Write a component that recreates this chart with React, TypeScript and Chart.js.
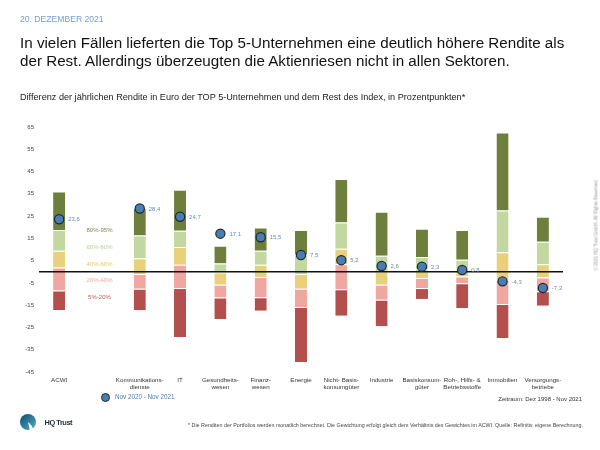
import React, { useEffect, useRef } from "react";
import { Chart, registerables } from "chart.js";
Chart.register(...registerables);

const categories: string[][] = [
  ["ACWI"], [""], ["Kommunikations-", "dienste"], ["IT"], ["Gesundheits-", "wesen"],
  ["Finanz-", "wesen"], ["Energie"], ["Nicht- Basis-", "konsumgüter"], ["Industrie"],
  ["Basiskonsum-", "güter"], ["Roh-, Hilfs- &", "Betriebsstoffe"], ["Immobilien"],
  ["Versorgungs-", "betriebe"],
];

// percentile boundaries of the return difference (percentage points)
const p95 = [36.0, null, 28.5, 36.8, 11.7, 19.9, 18.8, 41.7, 27.0, 19.3, 18.7, 62.5, 24.7];
const p80 = [18.7, null, 16.3, 18.4, 3.7, 9.4, 7.6, 22.1, 7.2, 6.6, 5.4, 27.5, 13.5];
const p60 = [9.4, null, 6.1, 11.1, -0.3, 3.1, -1.0, 10.3, 0.1, 1.3, 1.5, 8.8, 3.4];
const p40 = [1.9, null, -1.0, 3.1, -5.8, -2.4, -7.6, 3.4, -5.8, -2.8, -2.1, -3.6, -2.6];
const p20 = [-8.4, null, -7.6, -7.3, -11.5, -11.4, -15.8, -7.8, -12.6, -7.3, -5.1, -14.5, -8.8];
const p5 = [-17.2, null, -17.3, -29.3, -21.2, -17.5, -40.5, -19.7, -24.5, -12.2, -16.3, -29.7, -15.2];
const latest = [23.6, null, 28.4, 24.7, 17.1, 15.5, 7.5, 5.2, 2.6, 2.3, 0.8, -4.3, -7.3];

const bandLabels = ["5%-20%", "20%-40%", "40%-60%", "60%-80%", "80%-95%"];
const bandColors = ["#b3504d", "#efa7a2", "#e8d17a", "#c3d8a0", "#6e7e3b"];
const bandTextColors = ["#bb5c58", "#eeaaa4", "#e2c86e", "#b9d096", "#7e8c4a"];
const latestLabel = "Nov 2020 - Nov 2021";
const yMin = -45;
const yMax = 65;
const yStep = 10;

const FONT = "'Liberation Sans', Arial, Helvetica, sans-serif";

const fmt = (v: number) => v.toFixed(1).replace(".", ",");

export default function App() {
  const ref = useRef<HTMLCanvasElement | null>(null);

  useEffect(() => {
    if (!ref.current) return;
    const bounds = [p5, p20, p40, p60, p80, p95];
    const barSets = bandLabels.map((lab, k) => ({
      type: "bar" as const,
      label: lab,
      data: categories.map((_, i) =>
        bounds[k][i] == null ? null : [bounds[k][i] as number, bounds[k + 1][i] as number]
      ),
      backgroundColor: bandColors[k],
      borderColor: "#ffffff",
      borderWidth: { top: 1, right: 0, bottom: 0, left: 0 },
      borderSkipped: false,
      barPercentage: 0.3,
      categoryPercentage: 1,
      order: 1,
    }));

    const overlay = {
      id: "overlay",
      beforeDatasetDraw(chart: any, args: any) {
        if (args.index !== 5) return;
        const { ctx, chartArea, scales } = chart;
        const y0 = scales.y.getPixelForValue(0);
        ctx.save();
        ctx.strokeStyle = "#111";
        ctx.lineWidth = 1.5;
        ctx.beginPath();
        ctx.moveTo(chartArea.left, y0);
        ctx.lineTo(chartArea.right, y0);
        ctx.stroke();
        ctx.restore();
      },
      afterDatasetsDraw(chart: any) {
        const { ctx, scales } = chart;
        const meta = chart.getDatasetMeta(5);
        ctx.save();
        ctx.font = `6px ${FONT}`;
        ctx.fillStyle = "#6a8cb2";
        ctx.textAlign = "left";
        ctx.textBaseline = "middle";
        meta.data.forEach((pt: any, i: number) => {
          const v = latest[i];
          if (v == null) return;
          ctx.fillText(fmt(v), pt.x + 9, pt.y + 0.5);
        });
        // band legend in empty column
        const xc = scales.x.getPixelForValue(1);
        ctx.textAlign = "center";
        for (let j = 0; j < 5; j++) {
          const k = 4 - j;
          const yv = 18.5 - 7.5 * j;
          ctx.fillStyle = bandTextColors[k];
          ctx.fillText(bandLabels[k], xc, scales.y.getPixelForValue(yv));
        }
        ctx.restore();
      },
    };

    const chart = new Chart(ref.current, {
      type: "bar",
      data: {
        labels: categories,
        datasets: [
          ...barSets,
          {
            type: "line" as const,
            label: latestLabel,
            data: latest,
            showLine: false,
            pointRadius: 4.6,
            pointBackgroundColor: "#4a7eae",
            pointBorderColor: "#1b2a38",
            pointBorderWidth: 1.2,
            order: 0,
          } as any,
        ],
      },
      options: {
        responsive: false,
        animation: false,
        layout: { padding: { left: 0, right: 37, top: 127, bottom: 48 } },
        plugins: { legend: { display: false }, tooltip: { enabled: false }, title: { display: false } },
        scales: {
          x: {
            stacked: true,
            grid: { display: false, drawTicks: false },
            border: { display: false },
            ticks: {
              autoSkip: false,
              maxRotation: 0,
              padding: 4,
              color: "#333",
              font: { family: FONT, size: 6.2, lineHeight: 1.25 },
            },
            afterFit: (axis: any) => { axis.height = 30; },
          },
          y: {
            stacked: false,
            min: yMin,
            max: yMax,
            grid: { display: false, drawTicks: false },
            border: { display: false },
            ticks: {
              stepSize: yStep,
              padding: 5,
              color: "#444",
              font: { family: FONT, size: 6 },
            },
            afterFit: (axis: any) => { axis.width = 39; },
          },
        },
      },
      plugins: [overlay],
    });
    return () => chart.destroy();
  }, []);

  const abs = (left: number, top: number, extra: React.CSSProperties = {}): React.CSSProperties => ({
    position: "absolute", left, top, whiteSpace: "nowrap", fontFamily: FONT, margin: 0, ...extra,
  });

  return (
    <div style={{ position: "fixed", left: 0, top: 0, width: 600, height: 450, background: "#fff", overflow: "hidden" }}>
      <canvas ref={ref} width={600} height={450} style={{ position: "absolute", left: 0, top: 0 }} />
      <div style={abs(20, 14, { fontSize: 8.6, lineHeight: "10px", color: "#79a2c5" })}>20. DEZEMBER 2021</div>
      <div style={abs(20, 34, { fontSize: 15.2, lineHeight: "18px", color: "#111" })}>
        In vielen Fällen lieferten die Top 5-Unternehmen eine deutlich höhere Rendite als
        <br />
        der Rest. Allerdings überzeugten die Aktienriesen nicht in allen Sektoren.
      </div>
      <div style={abs(20, 92, { fontSize: 9.15, lineHeight: "10px", color: "#222" })}>
        Differenz der jährlichen Rendite in Euro der TOP 5-Unternehmen und dem Rest des Index, in Prozentpunkten*
      </div>
      <div style={{ position: "absolute", left: 100.5, top: 392.5, width: 9, height: 9, borderRadius: "50%", background: "#4a7eae", border: "1.2px solid #1b2a38", boxSizing: "border-box" }} />
      <div style={abs(115, 392, { fontSize: 6.3, lineHeight: "10px", color: "#4a7eae" })}>{latestLabel}</div>
      <div style={abs(0, 394, { width: 582, textAlign: "right", fontSize: 6.0, lineHeight: "10px", color: "#333" })}>
        Zeitraum: Dez 1998 - Nov 2021
      </div>
      <div style={abs(188, 420, { fontSize: 10.7, lineHeight: "10px", color: "#444", transform: "scale(0.5)", transformOrigin: "0 50%" })}>
        * Die Renditen der Portfolios werden monatlich berechnet. Die Gewichtung erfolgt gleich dem Verhältnis des Gewichtes im ACWI. Quelle: Refinitiv, eigene Berechnung.
      </div>
      <div style={abs(595.5, 225, { fontSize: 9, lineHeight: "10px", color: "#999", transform: "translate(-50%,-50%) rotate(-90deg) scale(0.5)" })}>
        © 2021 HQ Trust GmbH. All Rights Reserved.
      </div>
      <svg width={18} height={18} style={{ position: "absolute", left: 19, top: 413 }}>
        <defs>
          <linearGradient id="hqg" x1="0" y1="0" x2="1" y2="1">
            <stop offset="0" stopColor="#0a4d6b" />
            <stop offset="1" stopColor="#5aaccc" />
          </linearGradient>
        </defs>
        <circle cx={9} cy={9} r={8} fill="url(#hqg)" />
        <path d="M9 9 Q13 12 15 18 L11 18 Q10 13 9 9 Z" fill="#fff" />
      </svg>
      <div style={abs(44.5, 417, { fontSize: 7.4, lineHeight: "12px", fontWeight: 700, color: "#1d2d3a", letterSpacing: -0.45 })}>HQ Trust</div>
    </div>
  );
}
